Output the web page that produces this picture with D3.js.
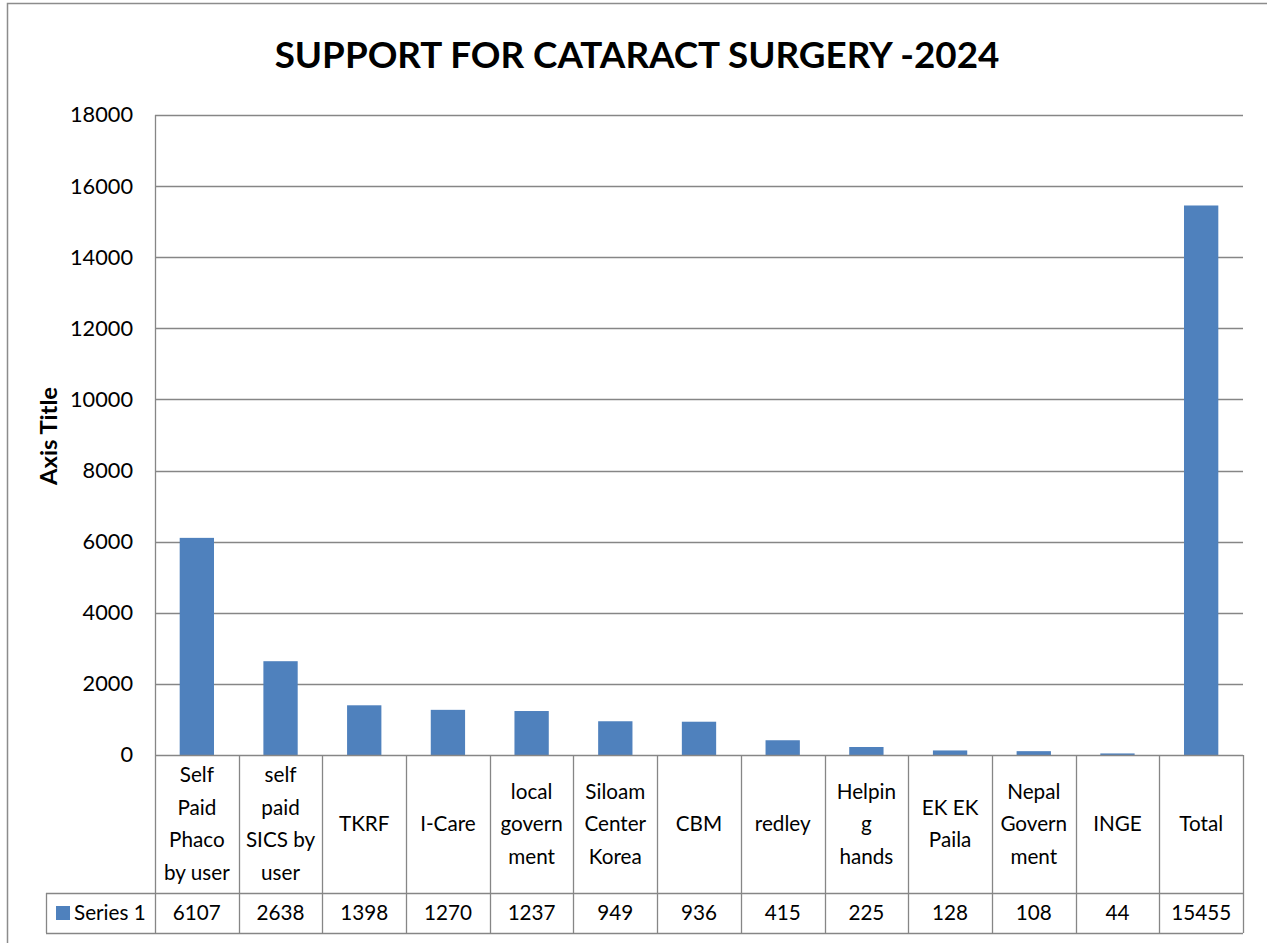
<!DOCTYPE html>
<html><head><meta charset="utf-8">
<script src="https://cdn.jsdelivr.net/npm/d3@7"></script>
<style>body{margin:0;background:#fff;}svg{display:block;}</style>
</head><body>
<svg id="c" width="1267" height="943"></svg>
<script>
const title = "SUPPORT FOR CATARACT SURGERY -2024";
const categories = ["Self\nPaid\nPhaco\nby user","self\npaid\nSICS by\nuser","TKRF","I-Care","local\ngovern\nment","Siloam\nCenter\nKorea","CBM","redley","Helpin\ng\nhands","EK EK\nPaila","Nepal\nGovern\nment","INGE","Total"];
const values = [6107,2638,1398,1270,1237,949,936,415,225,128,108,44,15455];
const seriesName = "Series 1";
const yTicks = [0,2000,4000,6000,8000,10000,12000,14000,16000,18000];
const axisTitle = "Axis Title";

(function(){
const FONT = "Lato, 'Open Sans', sans-serif";
const svg = d3.select("#c");
const pLeft = 155, pRight = 1243, pTop = 115, pBottom = 755;
const rowSplit = 893, tableBottom = 933, legendLeft = 46;
const barColor = "#4F81BD", gridColor = "#868686", txt = "#000";

function sizeFor(str, weight, target){
  const t = svg.append("text").attr("font-family",FONT).attr("font-weight",weight).attr("font-size",100).text(str);
  const w = t.node().getComputedTextLength(); t.remove();
  return 100*target/w;
}
const bodySize = sizeFor("6107","normal",48);
const tickSize = sizeFor("18000","normal",63);
const titleSize = sizeFor(title,"bold",725);
const axTitleSize = sizeFor(axisTitle,"bold",98);

svg.append("rect").attr("x",7.5).attr("y",3.5).attr("width",1300).attr("height",1000)
  .attr("fill","none").attr("stroke","#8c8c8c").attr("stroke-width",1.5);

const x = d3.scaleBand().domain(d3.range(categories.length)).range([pLeft,pRight]).paddingInner(0).paddingOuter(0);
const y = d3.scaleLinear().domain([0,18000]).range([pBottom,pTop]);

svg.append("g").selectAll("line").data(yTicks.filter(d=>d>0)).join("line")
  .attr("x1",pLeft).attr("x2",pRight).attr("y1",d=>Math.round(y(d))+0.5).attr("y2",d=>Math.round(y(d))+0.5)
  .attr("stroke",gridColor).attr("stroke-width",1.3);

const yAxis = d3.axisLeft(y).tickValues(yTicks).tickSize(0).tickPadding(22).tickFormat(d3.format("d"));
const ga = svg.append("g").attr("transform",`translate(${pLeft},0)`).call(yAxis);
ga.select(".domain").remove();
ga.selectAll("text").attr("font-family",FONT).attr("font-size",tickSize).attr("fill",txt);

const bw = x.bandwidth()*0.41;
svg.append("g").selectAll("rect").data(values).join("rect")
  .attr("x",(d,i)=>x(i)+x.bandwidth()/2-bw/2).attr("width",bw)
  .attr("y",d=>y(d)).attr("height",d=>y(0)-y(d)).attr("fill",barColor);

const tl = svg.append("g").attr("stroke",gridColor).attr("stroke-width",1.3).attr("fill","none");
tl.append("line").attr("x1",pLeft+0.5).attr("x2",pLeft+0.5).attr("y1",pTop).attr("y2",tableBottom);
tl.append("line").attr("x1",pLeft).attr("x2",pRight).attr("y1",pBottom+0.5).attr("y2",pBottom+0.5);
tl.append("line").attr("x1",legendLeft).attr("x2",pRight).attr("y1",rowSplit+0.5).attr("y2",rowSplit+0.5);
tl.append("line").attr("x1",legendLeft).attr("x2",pRight).attr("y1",tableBottom+0.5).attr("y2",tableBottom+0.5);
tl.append("line").attr("x1",legendLeft+0.5).attr("x2",legendLeft+0.5).attr("y1",rowSplit).attr("y2",tableBottom);
tl.selectAll(".v").data(d3.range(1,categories.length+1)).join("line").attr("class","v")
  .attr("x1",i=>Math.round(x.step()*i+pLeft)+0.5).attr("x2",i=>Math.round(x.step()*i+pLeft)+0.5)
  .attr("y1",pBottom).attr("y2",tableBottom);

const lineH = 32.5, catMid = (pBottom+rowSplit)/2;
const cg = svg.append("g").attr("font-family",FONT).attr("font-size",bodySize).attr("fill",txt).attr("text-anchor","middle");
categories.forEach((c,i)=>{
  const lines = c.split("\n");
  const t = cg.append("text").attr("x",x(i)+x.bandwidth()/2);
  lines.forEach((l,k)=>{
    t.append("tspan").attr("x",x(i)+x.bandwidth()/2)
      .attr("y",catMid+(k-(lines.length-1)/2)*lineH).attr("dy","0.35em").text(l);
  });
});

const valMid = (rowSplit+tableBottom)/2;
svg.append("g").attr("font-family",FONT).attr("font-size",bodySize).attr("fill",txt).attr("text-anchor","middle")
  .selectAll("text").data(values).join("text")
  .attr("x",(d,i)=>x(i)+x.bandwidth()/2).attr("y",valMid).attr("dy","0.35em").text(d=>d);

svg.append("rect").attr("x",56).attr("y",906).attr("width",14).attr("height",14).attr("fill",barColor);
svg.append("text").attr("x",74).attr("y",valMid).attr("dy","0.35em").attr("font-family",FONT)
  .attr("font-size",bodySize).attr("fill",txt).text(seriesName);

svg.append("text").attr("x",637).attr("y",68).attr("text-anchor","middle").attr("font-family",FONT)
  .attr("font-weight","bold").attr("font-size",titleSize).attr("fill",txt).text(title);

svg.append("text").attr("transform","translate(57,436) rotate(-90)").attr("text-anchor","middle")
  .attr("font-family",FONT).attr("font-weight","bold").attr("font-size",axTitleSize).attr("fill",txt).text(axisTitle);
})();
</script>
</body></html>
